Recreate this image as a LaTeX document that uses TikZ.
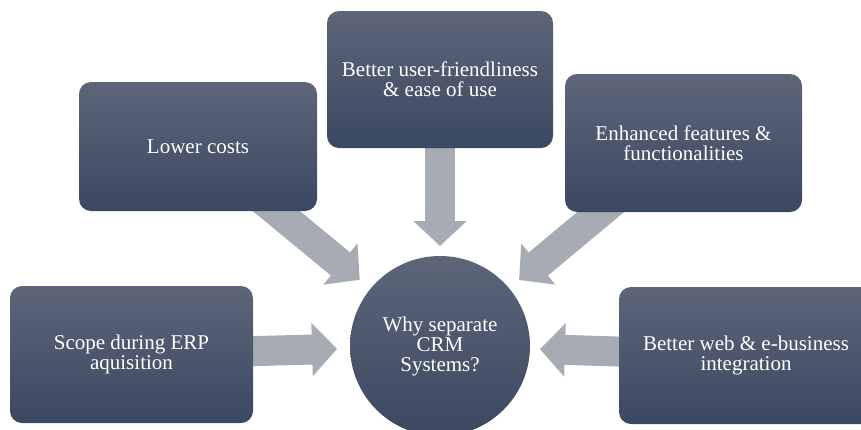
\documentclass[tikz,border=0pt]{standalone}
\usepackage{fontspec}
\setmainfont{Liberation Serif}
\usetikzlibrary{arrows.meta, backgrounds}

\definecolor{boxtop}{HTML}{5D6678}
\definecolor{boxbottom}{HTML}{3B4862}
\definecolor{arrowgray}{HTML}{A7ABB3}

\begin{document}
\begin{tikzpicture}[
        x=1pt, y=-1pt,
        box/.style={rectangle, rounded corners=12pt, top color=boxtop, bottom color=boxbottom, text=white, align=center, font=\fontsize{21}{20}\selectfont, inner sep=0pt, outer sep=0pt},
        hubnode/.style={circle, top color=boxtop, bottom color=boxbottom, text=white, align=center, font=\fontsize{21}{20}\selectfont, minimum size=180pt, inner sep=0pt, outer sep=0pt},
        arrow/.style={line width=30pt, draw=arrowgray, -{Triangle[length=25pt, width=52pt]}}
      ]
        \useasboundingbox (0,0) rectangle (861,429);
        \clip (0,0) rectangle (861,429);

        % Hub
        \node[hubnode] (hub) at (440,346) {Why separate\\CRM\\Systems?};

        % Reasons
        \node[box, minimum width=243pt, minimum height=137pt] (scope) at (131.5,354.5) {Scope during ERP\\aquisition};
        \node[box, minimum width=238pt, minimum height=129pt] (costs) at (198,146.5) {Lower costs};
        \node[box, minimum width=226pt, minimum height=137pt] (ease) at (440,79.5) {Better user-friendliness\\\& ease of use};
        \node[box, minimum width=237pt, minimum height=138pt] (features) at (683.5,143) {Enhanced features \&\\functionalities};
        \node[box, minimum width=254pt, minimum height=137pt] (web) at (746,355.5) {Better web \& e-business\\integration};

        % Arrows
        \begin{scope}[on background layer]
          \draw[arrow, shorten >=13pt] (scope.center) -- (hub);
          \draw[arrow, shorten >=14pt] (costs.center) -- (hub);
          \draw[arrow, shorten >=10pt] (ease.center) -- (hub);
          \draw[arrow, shorten >=13pt] (features.center) -- (hub);
          \draw[arrow, shorten >=10pt] (web.center) -- (hub);
        \end{scope}
      \end{tikzpicture}
\end{document}
